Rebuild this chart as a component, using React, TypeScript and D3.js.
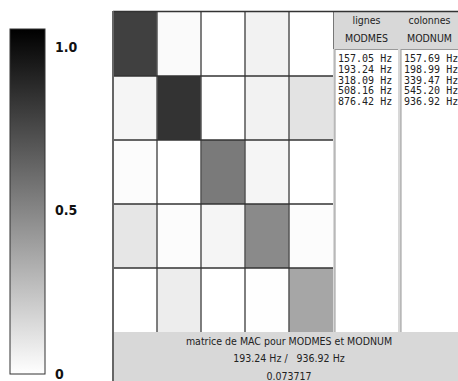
import React from "react";
import * as d3 from "d3";

const rowsFreq = ["157.05 Hz", "193.24 Hz", "318.09 Hz", "508.16 Hz", "876.42 Hz"];
const colsFreq = ["157.69 Hz", "198.99 Hz", "339.47 Hz", "545.20 Hz", "936.92 Hz"];
const macValues = [
  [0.75, 0.02, 0.0, 0.05, 0.0],
  [0.04, 0.8, 0.0, 0.05, 0.11],
  [0.01, 0.0, 0.52, 0.04, 0.0],
  [0.1, 0.01, 0.04, 0.46, 0.01],
  [0.0, 0.07, 0.0, 0.005, 0.35],
];
const colorTicks = [
  { v: 1, label: "1.0" },
  { v: 0.5, label: "0.5" },
  { v: 0, label: "0" },
];
const headers = [
  ["lignes", "MODMES"],
  ["colonnes", "MODNUM"],
];
const infoLines = ["matrice de MAC pour MODMES et MODNUM", "193.24 Hz /   936.92 Hz", "0.073717"];

export default function App() {
  const W = 458, H = 381;
  const idx = d3.range(5);
  const x = d3.scaleBand<number>().domain(idx).range([113, 333]);
  const y = d3.scaleBand<number>().domain(idx).range([12, 332]);
  const color = d3.scaleLinear<string>().domain([0, 1]).range(["#ffffff", "#000000"]);
  const barY = d3.scaleLinear().domain([0, 1]).range([374, 29]);
  const labY = d3.scaleLinear().domain([0, 1]).range([374, 47]);
  const sans = "'DejaVu Sans Condensed', 'DejaVu Sans', sans-serif";
  const mono = "'DejaVu Sans Mono', monospace";
  const listCols = [
    { x0: 335, x1: 398, items: rowsFreq },
    { x0: 401, x1: 458, items: colsFreq },
  ];
  return (
    <svg width={W} height={H} style={{ position: "absolute", left: 0, top: 0, background: "#fff" }}>
      <defs>
        <linearGradient id="cb" x1="0" y1="1" x2="0" y2="0">
          <stop offset="0%" stopColor={color(0)} />
          <stop offset="100%" stopColor={color(1)} />
        </linearGradient>
      </defs>
      {/* colorbar */}
      <rect x={10} y={barY(1)} width={35} height={barY(0) - barY(1)} fill="url(#cb)" stroke="#333" strokeWidth={1} />
      {colorTicks.map((t) => (
        <text key={t.label} x={55} y={labY(t.v)} dy="0.35em" fontFamily={sans} fontWeight="bold" fontSize={14} fill="#111">
          {t.label}
        </text>
      ))}
      {/* right panel background */}
      <rect x={333} y={12} width={125} height={320} fill="#d8d8d8" />
      {headers.map((h, i) => {
        const c = listCols[i];
        const cx = (c.x0 + c.x1) / 2;
        return (
          <g key={i}>
            <text x={cx} y={20} dy="0.35em" textAnchor="middle" fontFamily={sans} fontSize={10.5} fill="#222">{h[0]}</text>
            <text x={cx} y={38} dy="0.35em" textAnchor="middle" fontFamily={sans} fontSize={10.5} fill="#222">{h[1]}</text>
            <rect x={c.x0} y={49} width={c.x1 - c.x0} height={283} fill="#fff" />
            <line x1={c.x0} x2={c.x0} y1={49} y2={332} stroke="#999" />
            <line x1={c.x0} x2={c.x1} y1={49.5} y2={49.5} stroke="#999" />
            {c.items.map((s, j) => (
              <text key={j} x={c.x0 + 3} y={58.5 + j * 10.8} dy="0.35em" fontFamily={mono} fontSize={10} fill="#222">{s}</text>
            ))}
          </g>
        );
      })}
      {/* matrix cells */}
      {macValues.map((row, r) =>
        row.map((v, c) => (
          <rect key={`${r}-${c}`} x={x(c)!} y={y(r)!} width={x.bandwidth()} height={y.bandwidth()} fill={color(v)} />
        ))
      )}
      {idx.slice(1).map((i) => (
        <line key={`v${i}`} x1={x(i)!} x2={x(i)!} y1={12} y2={332} stroke="#555" strokeWidth={1.5} />
      ))}
      {idx.slice(1).map((i) => (
        <line key={`h${i}`} x1={113} x2={333} y1={y(i)!} y2={y(i)!} stroke="#333" strokeWidth={1.5} />
      ))}
      <line x1={333.5} x2={333.5} y1={12} y2={49} stroke="#777" />
      {/* bottom info panel */}
      <rect x={113} y={332} width={345} height={49} fill="#d8d8d8" />
      {infoLines.map((s, i) => (
        <text key={i} x={289} y={341 + i * 17.5} dy="0.35em" textAnchor="middle" fontFamily={sans} fontSize={10.5} fill="#222" style={{ whiteSpace: "pre" }}>
          {s}
        </text>
      ))}
      {/* borders */}
      <line x1={113} x2={458} y1={11.5} y2={11.5} stroke="#333" strokeWidth={1.5} />
      <line x1={113} x2={113} y1={11} y2={381} stroke="#666" strokeWidth={2} />
    </svg>
  );
}
